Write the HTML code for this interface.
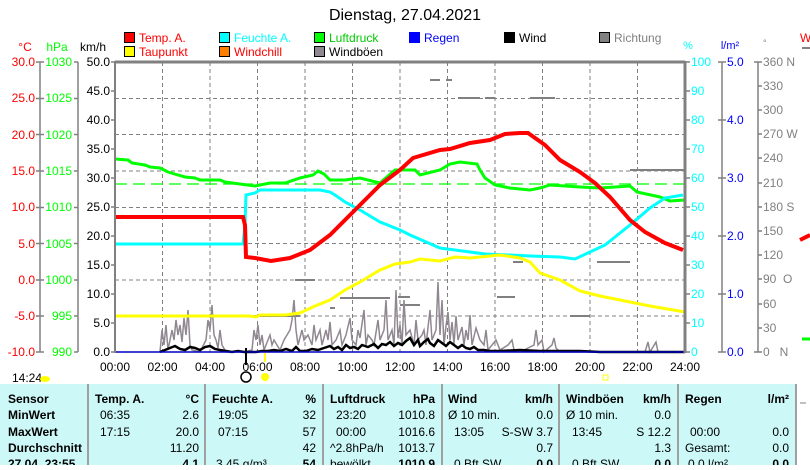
<!DOCTYPE html>
<html><head><meta charset="utf-8"><style>
body{margin:0;width:810px;height:465px;overflow:hidden;background:#fff;font-family:"Liberation Sans",sans-serif;}
svg text{font-family:"Liberation Sans",sans-serif;}
</style></head><body>
<svg width="810" height="465" viewBox="0 0 810 465" xmlns="http://www.w3.org/2000/svg">
<text x="405" y="20" font-size="16" text-anchor="middle">Dienstag, 27.04.2021</text>
<!-- legend -->
<g font-size="12">
<rect x="124.5" y="32.5" width="10" height="10" fill="#f00" stroke="#000"/><text x="139" y="42" fill="#f00">Temp. A.</text>
<rect x="219.5" y="32.5" width="10" height="10" fill="#0ff" stroke="#000"/><text x="234" y="42" fill="#0ff">Feuchte A.</text>
<rect x="314.5" y="32.5" width="10" height="10" fill="#0f0" stroke="#000"/><text x="329" y="42" fill="#0c0">Luftdruck</text>
<rect x="409.5" y="32.5" width="10" height="10" fill="#00f" stroke="#00f"/><text x="424" y="42" fill="#00f">Regen</text>
<rect x="504.5" y="32.5" width="10" height="10" fill="#000" stroke="#000"/><text x="519" y="42">Wind</text>
<rect x="599.5" y="32.5" width="10" height="10" fill="#808080" stroke="#000"/><text x="614" y="42" fill="#808080">Richtung</text>
<rect x="124.5" y="46.5" width="10" height="10" fill="#ff0" stroke="#000"/><text x="139" y="56" fill="#f00">Taupunkt</text>
<rect x="219.5" y="46.5" width="10" height="10" fill="#ff8000" stroke="#000"/><text x="234" y="56" fill="#f00">Windchill</text>
<rect x="314.5" y="46.5" width="10" height="10" fill="#908890" stroke="#000"/><text x="329" y="56">Windböen</text>
</g>
<!-- axis headers -->
<g font-size="12">
<text x="25" y="51" fill="#f00" text-anchor="middle">°C</text>
<text x="57" y="51" fill="#0f0" text-anchor="middle">hPa</text>
<text x="93" y="51" text-anchor="middle">km/h</text>
<text x="688" y="49" fill="#0ff" text-anchor="middle" font-size="11">%</text>
<text x="730" y="49" fill="#00f" text-anchor="middle" font-size="11">l/m²</text>
<text x="763" y="46" fill="#808080" font-size="9">°</text>
<text x="800" y="42" fill="#f00">W</text>
<line x1="802" y1="48" x2="810" y2="48" stroke="#808080" stroke-width="2"/>
</g>
<!-- grid -->
<g stroke="#808080" stroke-dasharray="4,3" stroke-width="1">
<line x1="162.5" y1="62" x2="162.5" y2="352"/><line x1="210" y1="62" x2="210" y2="352"/><line x1="257.5" y1="62" x2="257.5" y2="352"/><line x1="305" y1="62" x2="305" y2="352"/><line x1="352.5" y1="62" x2="352.5" y2="352"/><line x1="400" y1="62" x2="400" y2="352"/><line x1="447.5" y1="62" x2="447.5" y2="352"/><line x1="495" y1="62" x2="495" y2="352"/><line x1="542.5" y1="62" x2="542.5" y2="352"/><line x1="590" y1="62" x2="590" y2="352"/><line x1="637.5" y1="62" x2="637.5" y2="352"/>
<line x1="115" y1="98.5" x2="685" y2="98.5"/><line x1="115" y1="134.5" x2="685" y2="134.5"/><line x1="115" y1="171" x2="685" y2="171"/><line x1="115" y1="207.5" x2="685" y2="207.5"/><line x1="115" y1="243.5" x2="685" y2="243.5"/><line x1="115" y1="280" x2="685" y2="280"/><line x1="115" y1="316" x2="685" y2="316"/>
</g>
<!-- left axes -->
<g stroke="#808080" stroke-width="1.5">
<line x1="40" y1="62" x2="40" y2="352"/><line x1="78" y1="62" x2="78" y2="352"/>
<line x1="36" y1="62" x2="44" y2="62"/><line x1="36" y1="98.5" x2="44" y2="98.5"/><line x1="36" y1="134.5" x2="44" y2="134.5"/><line x1="36" y1="171" x2="44" y2="171"/><line x1="36" y1="207.5" x2="44" y2="207.5"/><line x1="36" y1="243.5" x2="44" y2="243.5"/><line x1="36" y1="280" x2="44" y2="280"/><line x1="36" y1="316" x2="44" y2="316"/><line x1="36" y1="352" x2="44" y2="352"/>
<line x1="74" y1="62" x2="78" y2="62"/><line x1="74" y1="98.5" x2="78" y2="98.5"/><line x1="74" y1="134.5" x2="78" y2="134.5"/><line x1="74" y1="171" x2="78" y2="171"/><line x1="74" y1="207.5" x2="78" y2="207.5"/><line x1="74" y1="243.5" x2="78" y2="243.5"/><line x1="74" y1="280" x2="78" y2="280"/><line x1="74" y1="316" x2="78" y2="316"/><line x1="74" y1="352" x2="78" y2="352"/>
<line x1="111" y1="62" x2="115" y2="62"/><line x1="111" y1="91" x2="115" y2="91"/><line x1="111" y1="120" x2="115" y2="120"/><line x1="111" y1="149" x2="115" y2="149"/><line x1="111" y1="178" x2="115" y2="178"/><line x1="111" y1="207" x2="115" y2="207"/><line x1="111" y1="236" x2="115" y2="236"/><line x1="111" y1="265" x2="115" y2="265"/><line x1="111" y1="294" x2="115" y2="294"/><line x1="111" y1="323" x2="115" y2="323"/><line x1="111" y1="352" x2="115" y2="352"/>
</g>
<g font-size="12" text-anchor="end">
<g fill="#f00"><text x="35" y="66">30.0</text><text x="35" y="102">25.0</text><text x="35" y="139">20.0</text><text x="35" y="175">15.0</text><text x="35" y="211">10.0</text><text x="35" y="248">5.0</text><text x="35" y="284">0.0</text><text x="35" y="320">-5.0</text><text x="35" y="356">-10.0</text></g>
<g fill="#0f0"><text x="72" y="66">1030</text><text x="72" y="102">1025</text><text x="72" y="139">1020</text><text x="72" y="175">1015</text><text x="72" y="211">1010</text><text x="72" y="248">1005</text><text x="72" y="284">1000</text><text x="72" y="320">995</text><text x="72" y="356">990</text></g>
<g><text x="110" y="66">50.0</text><text x="110" y="95">45.0</text><text x="110" y="124">40.0</text><text x="110" y="153">35.0</text><text x="110" y="182">30.0</text><text x="110" y="211">25.0</text><text x="110" y="240">20.0</text><text x="110" y="269">15.0</text><text x="110" y="298">10.0</text><text x="110" y="327">5.0</text><text x="110" y="356">0.0</text></g>
</g>
<!-- right axes -->
<g stroke="#808080" stroke-width="1.5">
<line x1="722" y1="62" x2="722" y2="352"/><line x1="758" y1="62" x2="758" y2="352"/>
<line x1="685" y1="62" x2="690" y2="62"/><line x1="685" y1="91" x2="690" y2="91"/><line x1="685" y1="120" x2="690" y2="120"/><line x1="685" y1="149" x2="690" y2="149"/><line x1="685" y1="178" x2="690" y2="178"/><line x1="685" y1="207" x2="690" y2="207"/><line x1="685" y1="236" x2="690" y2="236"/><line x1="685" y1="265" x2="690" y2="265"/><line x1="685" y1="294" x2="690" y2="294"/><line x1="685" y1="323" x2="690" y2="323"/><line x1="685" y1="352" x2="690" y2="352"/>
<line x1="718" y1="62" x2="726" y2="62"/><line x1="718" y1="120" x2="726" y2="120"/><line x1="718" y1="178" x2="726" y2="178"/><line x1="718" y1="236" x2="726" y2="236"/><line x1="718" y1="294" x2="726" y2="294"/><line x1="718" y1="352" x2="726" y2="352"/>
<line x1="754" y1="62" x2="762" y2="62"/><line x1="758" y1="86" x2="762" y2="86"/><line x1="758" y1="110" x2="762" y2="110"/><line x1="758" y1="134" x2="762" y2="134"/><line x1="758" y1="158" x2="762" y2="158"/><line x1="758" y1="183" x2="762" y2="183"/><line x1="758" y1="207" x2="762" y2="207"/><line x1="758" y1="231" x2="762" y2="231"/><line x1="758" y1="255" x2="762" y2="255"/><line x1="758" y1="279" x2="762" y2="279"/><line x1="758" y1="304" x2="762" y2="304"/><line x1="758" y1="328" x2="762" y2="328"/><line x1="754" y1="352" x2="762" y2="352"/>
</g>
<g font-size="12">
<g fill="#0ff"><text x="691" y="66">100</text><text x="691" y="95">90</text><text x="691" y="124">80</text><text x="691" y="153">70</text><text x="691" y="182">60</text><text x="691" y="211">50</text><text x="691" y="240">40</text><text x="691" y="269">30</text><text x="691" y="298">20</text><text x="691" y="327">10</text><text x="691" y="356">0</text></g>
<g fill="#00f"><text x="727" y="66">5.0</text><text x="727" y="124">4.0</text><text x="727" y="182">3.0</text><text x="727" y="240">2.0</text><text x="727" y="298">1.0</text><text x="727" y="356">0.0</text></g>
<g fill="#808080"><text x="763" y="66">360 N</text><text x="763" y="90">330</text><text x="763" y="114">300</text><text x="763" y="138">270 W</text><text x="763" y="162">240</text><text x="763" y="187">210</text><text x="763" y="211">180 S</text><text x="763" y="235">150</text><text x="763" y="259">120</text><text x="763" y="283">90&#160;&#160;O</text><text x="763" y="308">60</text><text x="763" y="332">30</text><text x="763" y="356">0&#160;&#160;&#160;N</text></g>
</g>
<line x1="800" y1="240" x2="810" y2="235" stroke="#f00" stroke-width="4"/>
<line x1="802" y1="339" x2="810" y2="339" stroke="#0f0" stroke-width="3"/>
<!-- direction segments -->
<g stroke="#808080" stroke-width="2">
<line x1="115" y1="316" x2="300" y2="316"/>
<line x1="295" y1="280" x2="315" y2="280"/><line x1="340" y1="298" x2="390" y2="298"/><line x1="400" y1="305" x2="420" y2="305"/><line x1="330" y1="308" x2="335" y2="308"/>
<line x1="430" y1="80" x2="440" y2="80"/><line x1="446" y1="80" x2="452" y2="80"/><line x1="458" y1="98" x2="480" y2="98"/><line x1="485" y1="98" x2="495" y2="98"/><line x1="530" y1="98" x2="555" y2="98"/>
<line x1="398" y1="297" x2="410" y2="297"/><line x1="497" y1="297" x2="515" y2="297"/><line x1="597" y1="262" x2="630" y2="262"/><line x1="570" y1="316" x2="590" y2="316"/><line x1="630" y1="170" x2="685" y2="170"/><line x1="513" y1="262" x2="523" y2="262"/>
</g>
<!-- gusts -->
<polyline fill="none" stroke="#908890" stroke-width="1.5" points="160,352 162,330 164,345 166,325 168,350 172,330 174,340 176,320 178,335 180,325 182,342 184,318 186,335 188,310 190,345 192,350 200,352 206,340 208,320 210,330 212,305 214,335 216,340 218,348 220,330 222,345 226,352 244,352 252,350 254,330 256,340 258,325 260,345 262,335 264,350 270,335 272,345 274,340 280,350 284,340 290,330 292,320 294,300 296,330 298,345 302,330 304,340 308,335 312,345 314,325 316,340 320,330 322,345 326,330 328,340 330,322 332,345 336,340 340,330 342,345 346,335 350,318 352,340 356,345 358,330 360,338 364,310 366,345 368,335 372,340 374,345 378,320 380,340 384,330 386,300 388,340 392,330 394,345 396,290 398,338 400,325 402,345 404,300 406,335 410,330 414,345 416,320 418,340 422,335 424,330 426,345 430,310 432,340 436,330 438,282 440,335 442,300 444,345 446,326 448,312 450,340 452,322 454,344 456,316 458,340 462,327 464,345 466,330 468,340 470,315 472,345 476,328 480,340 484,345 486,330 488,350 492,345 496,340 500,350 508,345 512,340 514,350 520,352 534,345 536,330 538,345 542,340 544,352 552,345 554,338 556,348 560,352 580,352 600,352 645,352 648,342 650,352 656,342 658,352 685,352"/>
<!-- wind -->
<polyline fill="none" stroke="#000" stroke-width="2.5" points="160,352 165,350 170,348 175,346 180,349 185,350 190,347 195,348 200,350 205,347 210,346 215,349 220,350 226,351 232,352 238,351 244,352 256,352 262,351 268,351 274,350 280,351 286,349 292,351 296,347 300,351 306,351 312,349 318,350 324,348 330,346 334,349 338,347 342,350 346,345 350,348 354,347 358,349 362,345 368,347 374,344 378,348 382,344 386,345 390,342 394,346 398,343 402,345 406,341 410,338 414,345 418,340 420,346 424,342 428,339 430,343 434,346 438,340 442,343 446,346 450,342 454,345 458,348 462,345 466,348 470,349 474,347 478,350 484,350 490,351 500,351 520,350 540,351 560,351 580,351 600,352 685,352"/>
<!-- rain -->
<line x1="115" y1="352" x2="685" y2="352" stroke="#0000c0" stroke-width="1.5"/>
<!-- pressure avg -->
<line x1="115" y1="184" x2="685" y2="184" stroke="#0f0" stroke-width="1.2" stroke-dasharray="12,6"/>
<!-- pressure -->
<polyline fill="none" stroke="#0f0" stroke-width="3" points="115,159 128,160 132,163 145,165 150,167 160,168 168,172 178,175 185,177 195,178 200,180 220,180 225,182 240,184 255,186 270,183 285,183 300,178 313,175 318,171 324,174 330,180 345,180 360,178 380,183 395,170 415,170 420,175 440,170 450,164 460,162 477,164 480,170 485,178 495,185 510,188 530,190 540,188 550,185 580,187 600,188 630,186 637,192 660,197 670,201 685,200"/>
<!-- humidity -->
<polyline fill="none" stroke="#0ff" stroke-width="3" points="115,244 243,244 245,225 246,195 255,193 260,190 320,190 330,192 335,195 345,202 360,210 380,222 400,230 410,235 440,248 470,252 485,254 510,255 530,256 560,257 575,259 590,252 605,245 630,225 650,208 665,198 683,195"/>
<!-- dew point -->
<polyline fill="none" stroke="#ff0" stroke-width="3" points="115,316 250,316 256,317 260,315 285,315 300,313 315,306 330,300 345,290 360,282 380,270 395,264 410,262 420,259 440,261 455,257 470,258 500,255 520,258 530,262 540,273 560,280 580,291 600,296 620,300 650,306 685,312"/>
<!-- temperature -->
<polyline fill="none" stroke="#f00" stroke-width="4" points="115,217 243,217 245,225 246,257 255,258 271,261 290,258 310,250 330,235 350,215 370,195 380,185 400,170 413,158 440,150 450,149 470,143 490,140 505,134 520,133 528,133 545,145 560,160 580,172 595,183 610,197 630,220 645,232 665,243 683,250"/>
<!-- plot frame -->
<line x1="115" y1="62" x2="685" y2="62" stroke="#808080" stroke-width="3"/>
<line x1="115" y1="61" x2="115" y2="353" stroke="#808080" stroke-width="2"/>
<line x1="685" y1="61" x2="685" y2="353" stroke="#808080" stroke-width="3"/>
<!-- x labels -->
<g font-size="12" text-anchor="middle"><text x="115" y="371">00:00</text><text x="162.5" y="371">02:00</text><text x="210" y="371">04:00</text><text x="257.5" y="371">06:00</text><text x="305" y="371">08:00</text><text x="352.5" y="371">10:00</text><text x="400" y="371">12:00</text><text x="447.5" y="371">14:00</text><text x="495" y="371">16:00</text><text x="542.5" y="371">18:00</text><text x="590" y="371">20:00</text><text x="637.5" y="371">22:00</text><text x="685" y="371">24:00</text></g>
<line x1="246" y1="348" x2="246" y2="365" stroke="#000" stroke-width="2"/>
<line x1="265" y1="353" x2="265" y2="362" stroke="#ff0" stroke-width="2"/>
<text x="12" y="382" font-size="12">14:24</text>
<ellipse cx="45" cy="379" rx="5" ry="3" fill="#ff0"/>
<circle cx="246" cy="377" r="5" fill="none" stroke="#000" stroke-width="1.5"/>
<circle cx="265" cy="377" r="4" fill="#ff0"/>
<rect x="603" y="375" width="5" height="5" fill="none" stroke="#ff0"/>
<!-- table -->
<rect x="0" y="384" width="796" height="81" fill="#ccf8f8"/>
<g stroke="#a0a0a0" stroke-width="2"><line x1="88" y1="384" x2="88" y2="465"/><line x1="205" y1="384" x2="205" y2="465"/><line x1="323" y1="384" x2="323" y2="465"/><line x1="442" y1="384" x2="442" y2="465"/><line x1="559" y1="384" x2="559" y2="465"/><line x1="678" y1="384" x2="678" y2="465"/><line x1="796" y1="384" x2="796" y2="465"/></g>
<g font-size="12">
<g font-weight="bold"><text x="8" y="403">Sensor</text><text x="8" y="419">MinWert</text><text x="8" y="436">MaxWert</text><text x="8" y="452">Durchschnitt</text><text x="8" y="468">27.04. 23:55</text>
<text x="95" y="403">Temp. A.</text><text x="199" y="403" text-anchor="end">°C</text>
<text x="212" y="403">Feuchte A.</text><text x="316" y="403" text-anchor="end">%</text>
<text x="330" y="403">Luftdruck</text><text x="435" y="403" text-anchor="end">hPa</text>
<text x="448" y="403">Wind</text><text x="553" y="403" text-anchor="end">km/h</text>
<text x="566" y="403">Windböen</text><text x="671" y="403" text-anchor="end">km/h</text>
<text x="685" y="403">Regen</text><text x="789" y="403" text-anchor="end">l/m²</text>
<text x="199" y="468" text-anchor="end">4.1</text><text x="316" y="468" text-anchor="end">54</text><text x="435" y="468" text-anchor="end">1010.9</text><text x="553" y="468" text-anchor="end">0.0</text><text x="671" y="468" text-anchor="end">0.0</text><text x="789" y="468" text-anchor="end">0.0</text></g>
<text x="100" y="419">06:35</text><text x="199" y="419" text-anchor="end">2.6</text>
<text x="100" y="436">17:15</text><text x="199" y="436" text-anchor="end">20.0</text>
<text x="199" y="452" text-anchor="end">11.20</text>
<text x="218" y="419">19:05</text><text x="316" y="419" text-anchor="end">32</text>
<text x="218" y="436">07:15</text><text x="316" y="436" text-anchor="end">57</text>
<text x="316" y="452" text-anchor="end">42</text><text x="216" y="468">3.45 g/m³</text>
<text x="336" y="419">23:20</text><text x="435" y="419" text-anchor="end">1010.8</text>
<text x="336" y="436">00:00</text><text x="435" y="436" text-anchor="end">1016.6</text>
<text x="330" y="452">^2.8hPa/h</text><text x="435" y="452" text-anchor="end">1013.7</text><text x="330" y="468">bewölkt</text>
<text x="448" y="419">Ø 10 min.</text><text x="553" y="419" text-anchor="end">0.0</text>
<text x="454" y="436">13:05</text><text x="553" y="436" text-anchor="end">S-SW 3.7</text>
<text x="553" y="452" text-anchor="end">0.7</text><text x="454" y="468">0 Bft SW</text>
<text x="566" y="419">Ø 10 min.</text><text x="671" y="419" text-anchor="end">0.0</text>
<text x="572" y="436">13:45</text><text x="671" y="436" text-anchor="end">S 12.2</text>
<text x="671" y="452" text-anchor="end">1.3</text><text x="572" y="468">0 Bft SW</text>
<text x="690" y="436">00:00</text><text x="789" y="436" text-anchor="end">0.0</text>
<text x="685" y="452">Gesamt:</text><text x="789" y="452" text-anchor="end">0.0</text><text x="688" y="468">0.0 l/m²</text>
</g>
<line x1="800" y1="403" x2="806" y2="403" stroke="#808080"/>
</svg>
</body></html>
